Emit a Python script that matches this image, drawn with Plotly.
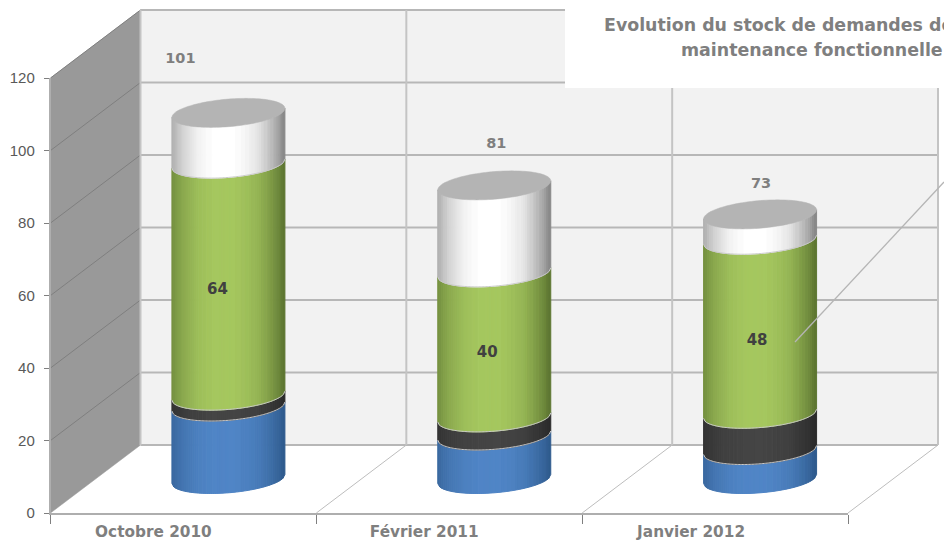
import numpy as np
import plotly.graph_objects as go

# ---------- data ----------
categories = ["Octobre 2010", "Février 2011", "Janvier 2012"]
blue = [20, 12, 8]
dark = [3, 5, 10]
green = [64, 40, 48]
white = [14, 24, 7]
totals = [101, 81, 73]
y_ticks = [0, 20, 40, 60, 80, 100, 120]
title_lines = ["Evolution du stock de demandes de", "maintenance fonctionnelle"]

# ---------- geometry of the page ----------
W, H = 944, 542
PX_L, PX_R, PX_0, PX_120 = 50.5, 848.0, 513.0, 78.0
UX = (PX_R - PX_L) / 3.0
UY = (PX_0 - PX_120) / 120.0
DX, DY = 90.0 / UX, 68.0 / UY      # full depth of the pseudo-3D box
R_X, R_Y, SHEAR = 56.5 / UX, 13.8 / UY, 4.5 / UY
FONT = "DejaVu Sans"


def dx(px):
    return px / UX


def dy(px):
    return px / UY


def xp(px):
    return (px - PX_L) / UX - 0.5


def yp(px):
    return (PX_0 - px) / UY


def hexmix(c1, c2, t):
    a = [int(c1[i:i + 2], 16) for i in (1, 3, 5)]
    b = [int(c2[i:i + 2], 16) for i in (1, 3, 5)]
    return "#%02x%02x%02x" % tuple(round(p + (q - p) * t) for p, q in zip(a, b))


fig = go.Figure()


def line(xs, ys, color, width):
    fig.add_trace(go.Scatter(x=xs, y=ys, mode="lines", hoverinfo="skip",
                             line=dict(color=color, width=width, simplify=False), showlegend=False))


def poly(xs, ys, color, lw=0.5):
    fig.add_trace(go.Scatter(x=xs, y=ys, mode="lines", fill="toself", fillcolor=color,
                             hoverinfo="skip", line=dict(color=color, width=lw, simplify=False),
                             showlegend=False))


X0, X1 = -0.5, 2.5
YMAX = y_ticks[-1]

# back wall and left wall
poly([X0 + DX, X1 + DX, X1 + DX, X0 + DX, X0 + DX],
     [DY, DY, DY + YMAX, DY + YMAX, DY], "#f2f2f2")
poly([X0, X0 + DX, X0 + DX, X0, X0], [0, DY, DY + YMAX, YMAX, 0], "#999999")

# grid on walls
for v in y_ticks:
    line([X0 + DX, X1 + DX], [DY + v, DY + v], "#b7b7b7", 2)
    if v > 0:
        line([X0, X0 + DX], [v, DY + v], "#7f7f7f", 1)
for i in range(len(categories) + 1):
    bx = X0 + i
    line([bx + DX, bx + DX], [DY, DY + YMAX], "#c4c4c4", 2)
    if i > 0:
        line([bx, bx + DX], [0, DY], "#bdbdbd", 1)

# cylinders
palette = [
    (blue, "#2e5a8c", "#5085c6"),
    (dark, "#2a2a2a", "#454545"),
    (green, "#5c7430", "#a5c75f"),
    (white, "#858585", "#ffffff"),
]
N = 56
edges = np.linspace(-1, 1, N + 1)


def front(u, cx, level):
    return level + DY / 2 + SHEAR * u - R_Y * np.sqrt(np.clip(1 - u * u, 0, 1))


for k, (series, edge, centre) in enumerate(palette):
    groups = {}
    for c, cat in enumerate(categories):
        lo = sum(palette[j][0][c] for j in range(k))
        hi = lo + series[c]
        for a, b in zip(edges[:-1], edges[1:]):
            m = (a + b) / 2
            t = 1 - min(abs(m + 0.08) / 1.08, 1) ** 2.4
            col = hexmix(edge, centre, round(t * 30) / 30)
            cx = c + DX / 2
            xs = [cx + a * R_X, cx + b * R_X, cx + b * R_X, cx + a * R_X, cx + a * R_X, None]
            ys = [front(a, cx, lo), front(b, cx, lo), front(b, cx, hi), front(a, cx, hi), front(a, cx, lo), None]
            groups.setdefault(col, ([], []))
            groups[col][0].extend(xs)
            groups[col][1].extend(ys)
    for col, (xs, ys) in groups.items():
        poly(xs, ys, col, lw=1)

# separators and cap
th = np.linspace(0, 2 * np.pi, 121)
for c in range(len(categories)):
    cx = c + DX / 2
    level = 0
    for k, (series, _, _) in enumerate(palette):
        level += series[c]
        if k < len(palette) - 1:
            uu = np.linspace(-1, 1, 81)
            line(cx + uu * R_X, front(uu, cx, level), "#c9c9c9", 1)
    poly(cx + R_X * np.cos(th),
         totals[c] + DY / 2 + SHEAR * np.cos(th) + R_Y * np.sin(th), "#b4b4b4")

# leader line
line([xp(795), xp(944)], [yp(342), yp(182)], "#b5b5b5", 1.3)

# value labels
total_off = [(-48, -54), (2, -41), (1, -30)]
fig.add_trace(go.Scatter(
    x=[c + DX / 2 + dx(total_off[c][0]) for c in range(3)],
    y=[totals[c] + DY / 2 - dy(total_off[c][1]) for c in range(3)],
    text=[str(v) for v in totals], mode="text", hoverinfo="skip", showlegend=False,
    textposition="middle center",
    textfont=dict(family=FONT, size=14.5, color="#7f7f7f", weight="bold")))
green_off = [(-11, 11), (-7, 8), (-3, 14)]
fig.add_trace(go.Scatter(
    x=[c + DX / 2 + dx(green_off[c][0]) for c in range(3)],
    y=[blue[c] + dark[c] + green[c] / 2 + DY / 2 - dy(green_off[c][1]) for c in range(3)],
    text=[str(v) for v in green], mode="text", hoverinfo="skip", showlegend=False,
    textposition="middle center",
    textfont=dict(family=FONT, size=15, color="#404040", weight="bold")))

# invisible trace that keeps the visible (front) axes on the page
fig.add_trace(go.Scatter(x=[0, 1, 2], y=totals, xaxis="x2", yaxis="y2", mode="markers",
                         marker=dict(opacity=0), hoverinfo="skip", showlegend=False))

# title panel
shapes = [dict(type="rect", xref="x", yref="y", layer="above", line=dict(width=0),
               fillcolor="#ffffff", x0=xp(565), x1=xp(W), y0=yp(88), y1=yp(0))]
annotations = []
for text, left, py in zip(title_lines, (602, 679), (25, 50)):
    annotations.append(dict(text="<b>%s</b>" % text, xref="x", yref="y", x=xp(left), y=yp(py),
                            xanchor="left", yanchor="middle", showarrow=False, align="left",
                            font=dict(family=FONT, size=17.4, color="#7f7f7f")))

label_shift = [-30, -25, -24]
fig.update_layout(
    width=W, height=H, margin=dict(l=0, r=0, t=0, b=0, pad=0), autosize=False,
    paper_bgcolor="#ffffff", plot_bgcolor="rgba(0,0,0,0)", showlegend=False,
    shapes=shapes, annotations=annotations,
    # full-page drawing axes, same scale as the visible axes
    xaxis=dict(domain=[0, 1], range=[xp(0), xp(W)], visible=False, automargin=False, fixedrange=True),
    yaxis=dict(domain=[0, 1], range=[yp(H), yp(0)], visible=False, automargin=False, fixedrange=True),
    # visible front axes
    xaxis2=dict(domain=[PX_L / W, PX_R / W], range=[X0, X1], anchor="y2", showgrid=False,
                zeroline=False, automargin=False, showline=True, linecolor="#aeaeae", linewidth=2,
                tickmode="array", tickvals=[i + dx(label_shift[i]) for i in range(3)], ticktext=categories,
                ticks="", ticklabelstandoff=4,
                tickfont=dict(family=FONT, size=15.3, color="#7f7f7f", weight="bold"),
                minor=dict(tickmode="array", tickvals=[X0, X0 + 1, X0 + 2, X1], ticks="outside",
                           ticklen=9, tickwidth=1, tickcolor="#7f7f7f")),
    yaxis2=dict(domain=[(H - PX_0) / H, (H - PX_120) / H], range=[0, YMAX], anchor="x2", showgrid=False,
                zeroline=False, automargin=False, showline=True, linecolor="#aeaeae", linewidth=1.5,
                tickmode="array", tickvals=y_ticks, ticks="outside", ticklen=5, tickwidth=1,
                tickcolor="#7f7f7f", ticklabelstandoff=6,
                tickfont=dict(family="Liberation Sans", size=15, color="#595959")),
)
fig.write_html("out.html", config=dict(displayModeBar=False),
               post_script="document.body.style.margin='0';document.documentElement.style.overflow='hidden';")
